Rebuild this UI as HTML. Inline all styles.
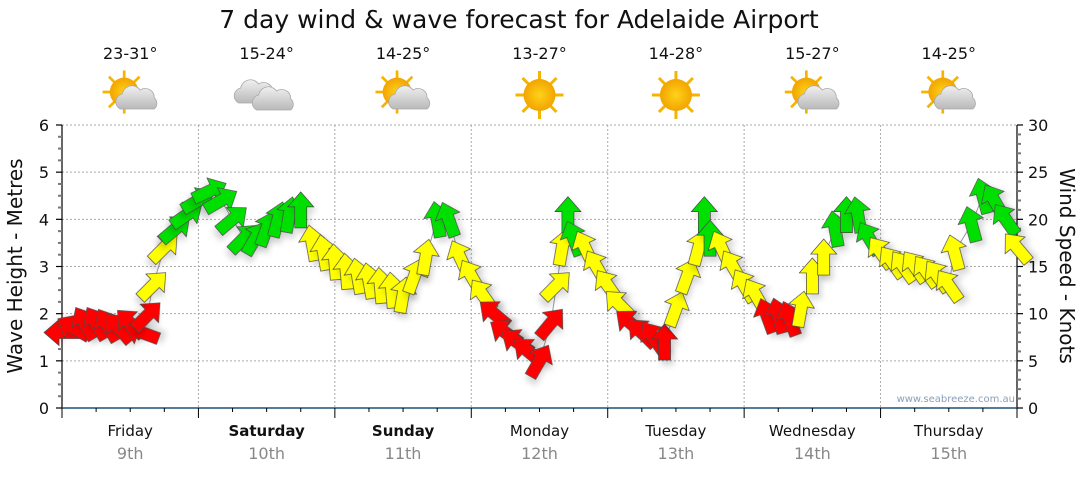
<!DOCTYPE html>
<html><head><meta charset="utf-8"><style>
body{margin:0;background:#fff;}
svg text{font-family:"DejaVu Sans","Liberation Sans",Verdana,sans-serif;}
</style></head><body>
<svg id="c" width="1080" height="475" viewBox="0 0 1080 475">
<defs>
<filter id="sh" x="-50%" y="-50%" width="200%" height="200%"><feDropShadow dx="3" dy="5" stdDeviation="3" flood-color="#000" flood-opacity="0.15"/></filter>
<radialGradient id="sun" cx="50%" cy="50%" r="50%"><stop offset="0" stop-color="#ffd21a"/><stop offset="1" stop-color="#f2a400"/></radialGradient>
<linearGradient id="cloud" x1="0" y1="0" x2="0" y2="1"><stop offset="0" stop-color="#f0f0f0"/><stop offset="1" stop-color="#b9b9b9"/></linearGradient>
<g id="sunIcon"><g stroke="#f5b400" stroke-width="3"><line x1="0" y1="-24" x2="0" y2="24"/><line x1="-24" y1="0" x2="24" y2="0"/><line x1="-17" y1="-17" x2="17" y2="17"/><line x1="-17" y1="17" x2="17" y2="-17"/></g><circle r="16" fill="url(#sun)"/></g>
<g id="cloudIcon"><path d="M-18,10 a8,8 0 0 1 2,-15 a10,10 0 0 1 18,-4 a9,9 0 0 1 14,8 a7,7 0 0 1 0,11 z" fill="url(#cloud)" stroke="#aaa" stroke-width="0.8"/></g>
</defs>
<text x="519" y="28" font-size="25" text-anchor="middle" fill="#111">7 day wind &amp; wave forecast for Adelaide Airport</text>
<g id="grid"></g><g id="axes"></g><g id="marks"></g><g id="labels"></g>
<text x="1015" y="402" font-size="10" text-anchor="end" fill="#8aa0b8">www.seabreeze.com.au</text>
<text transform="translate(22,266) rotate(-90)" font-size="20" text-anchor="middle" fill="#111">Wave Height - Metres</text>
<text transform="translate(1060,266) rotate(90)" font-size="20" text-anchor="middle" fill="#111">Wind Speed - Knots</text>
</svg>
<script>
const days=["Friday","Saturday","Sunday","Monday","Tuesday","Wednesday","Thursday"];
const dates=["9th","10th","11th","12th","13th","14th","15th"];
const temps=["23-31°","15-24°","14-25°","13-27°","14-28°","15-27°","14-25°"];
const icons=["partly","cloudy","partly","sunny","sunny","partly","partly"];
const boldDays=[false,true,true,false,false,false,false];
const leftTicks=["0","1","2","3","4","5","6"];
const rightTicks=["0","5","10","15","20","25","30"];
const hours=[0,2,4,6,8,10,12,14,15,16,18,20,22,24,26,28,30,32,34,36,38,40,42,44,46,48,50,52,54,56,58,60,62,64,66,68,70,72,74,76,78,80,82,84,86,87,88,89,90,92,94,96,98,100,102,104,106,108,110,112,113,114,116,118,120,122,124,126,128,130,132,134,136,138,140,142,144,146,148,150,152,154,156,157,160,162,164,166,168];
const speed=[8,8.5,9,9,8.8,8.5,9,8,9.8,13,17,19,20.5,22,23,22,20,18,18,19,20,20.5,21,17.5,16.5,15.5,14.5,14,13.5,13,12.5,12,14,16,20,20,16,14,12,10,8,7,6,5,9,13,17,20.5,18,17,15,13,11,9,8,7.5,7,10.5,14,17,20.5,18,17,15,13,12,9.8,9.8,9.5,10.5,14,16,19,20.5,20.5,18,16.5,15.5,15,15,14.5,14,13,16.5,19.5,22.5,22,20,17];
const direction=[270,300,330,330,330,320,315,290,45,45,45,50,55,60,65,60,50,45,30,20,15,10,0,-10,-10,-5,-5,-10,-10,-5,-5,10,20,10,-10,-20,-25,-30,-35,-50,-55,-55,-50,30,40,45,10,0,-20,-25,-30,-35,-45,-50,-45,-35,0,20,20,15,0,0,-25,-30,-30,-30,-20,-15,-20,10,0,0,-10,0,-10,-30,-35,-35,-35,-35,-35,-35,-35,-15,-15,-15,-30,-35,-40];
const NS="http://www.w3.org/2000/svg";
const X0=62,X1=1017,Y0=408,Y6=125;
const xs=h=>X0+h*(X1-X0)/168;
const yL=m=>Y0-m*(Y0-Y6)/6;
const yR=k=>Y0-k*(Y0-Y6)/30;
function mk(tag,parent,attrs){const e=document.createElementNS(NS,tag);for(const k in attrs)e.setAttribute(k,attrs[k]);document.getElementById(parent).appendChild(e);return e;}
for(let i=1;i<=6;i++){const g=mk('line','grid',{x1:X0,x2:X1,y1:yL(i),y2:yL(i),stroke:'#aaa','stroke-dasharray':'2,2','stroke-width':1});}
for(let d=1;d<7;d++){const g=mk('line','grid',{x1:xs(d*24),x2:xs(d*24),y1:Y6,y2:Y0,stroke:'#aaa','stroke-dasharray':'2,2','stroke-width':1});}
let a=mk('line','axes',{x1:X0,x2:X0,y1:Y6,y2:Y0,stroke:'#000','stroke-width':1.2});
a=mk('line','axes',{x1:X1,x2:X1,y1:Y6,y2:Y0,stroke:'#000','stroke-width':1.2});
a=mk('line','axes',{x1:X0,x2:X1,y1:Y0,y2:Y0,stroke:'#1a5276','stroke-width':1.5});
for(let i=0;i<=24;i++){const m=i/4;const maj=i%4==0;const t=mk('line','axes',{x1:X0-(maj?6:4),x2:X0,y1:yL(m),y2:yL(m),stroke:maj?'#000':'#777','stroke-width':maj?1.2:2});}
leftTicks.forEach((s,i)=>{const t=mk('text','axes',{x:X0-13,y:yL(+s)+6,'font-size':16,'text-anchor':'end',fill:'#111'});t.textContent=s;});
for(let k=0;k<=30;k++){const maj=k%5==0;const t=mk('line','axes',{x1:X1,x2:X1+(maj?6:4),y1:yR(k),y2:yR(k),stroke:maj?'#000':'#777','stroke-width':maj?1.2:2});}
rightTicks.forEach((s,i)=>{const t=mk('text','axes',{x:X1+11,y:yR(+s)+6,'font-size':16,fill:'#111'});t.textContent=s;});
for(let h=0;h<=168;h+=6){const maj=h%24==0;const t=mk('line','axes',{x1:xs(h),x2:xs(h),y1:Y0,y2:Y0+(maj?10:4),stroke:'#000','stroke-width':1});}
days.forEach((d,i)=>{const cx=xs(i*24+12);
 let t=mk('text','labels',{x:cx,y:436,'font-size':15,'text-anchor':'middle',fill:'#111','font-weight':boldDays[i]?'bold':'normal'});t.textContent=d;
 t=mk('text','labels',{x:cx,y:459,'font-size':16,'text-anchor':'middle',fill:'#888'});t.textContent=dates[i];
 t=mk('text','labels',{x:cx,y:59,'font-size':16,'text-anchor':'middle',fill:'#111'});t.textContent=temps[i];
 const g=mk('g','labels',{transform:`translate(${cx},95)`});
 const ic=icons[i];
 if(ic=='sunny'){const u=document.createElementNS(NS,'use');u.setAttribute('href','#sunIcon');g.appendChild(u);}
 else if(ic=='partly'){let u=document.createElementNS(NS,'use');u.setAttribute('href','#sunIcon');u.setAttribute('transform','translate(-6,-3) scale(0.9)');g.appendChild(u);u=document.createElementNS(NS,'use');u.setAttribute('href','#cloudIcon');u.setAttribute('transform','translate(8,4)');g.appendChild(u);}
 else{let u=document.createElementNS(NS,'use');u.setAttribute('href','#cloudIcon');u.setAttribute('transform','translate(-10,-2)');g.appendChild(u);u=document.createElementNS(NS,'use');u.setAttribute('href','#cloudIcon');u.setAttribute('transform','translate(8,5)');g.appendChild(u);}
});
const pts=hours.map((h,i)=>xs(h)+','+yR(speed[i])).join(' ');
const ln=mk('polyline','marks',{points:pts,fill:'none',stroke:'#999','stroke-width':1});

const colorFor=k=>k<10.2?'#ff0000':(k<18?'#ffff00':'#00e000');
hours.forEach((h,i)=>{
 const p=mk('polygon','marks',{points:'-6,18 6,18 6,-3 13,-3 0,-18 -13,-3 -6,-3',fill:colorFor(speed[i]),stroke:'#444','stroke-width':0.7,filter:'url(#sh)',transform:`translate(${xs(h)},${yR(speed[i])}) rotate(${direction[i]})`});
 
 
});
</script>
</body></html>
